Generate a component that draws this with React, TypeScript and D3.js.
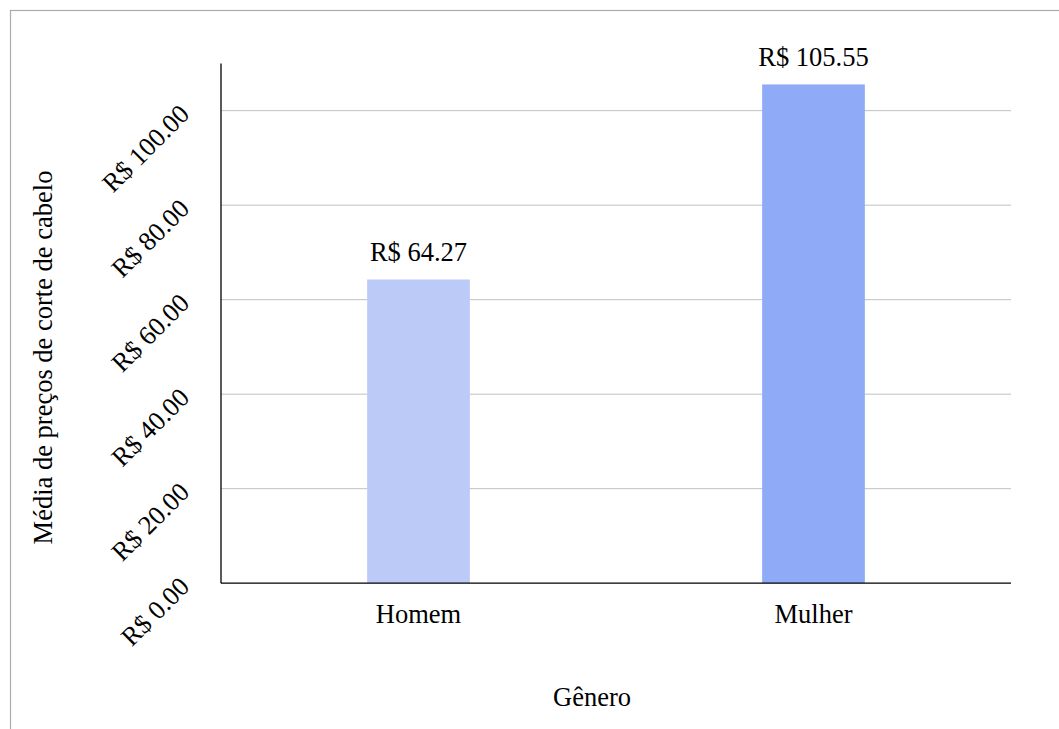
import React from "react";
import * as d3 from "d3";

const categories = ["Homem", "Mulher"];
const values = [64.27, 105.55];
const barColors = ["#BCCAF7", "#8FABF7"];
const yTicks = [0, 20, 40, 60, 80, 100];
const yMax = 110;
const yTitle = "Média de preços de corte de cabelo";
const xTitle = "Gênero";

const W = 1059;
const H = 729;
const plotLeft = 221;
const plotRight = 1011;
const plotTop = 63.4;
const plotBottom = 583.2;
const FONT = "'Liberation Serif', 'Times New Roman', serif";
const FS = 26.5;

const fmt = (v: number) => "R$ " + v.toFixed(2);

export default function App() {
  const x = d3.scaleBand<string>().domain(categories).range([plotLeft, plotRight]).padding(0);
  const y = d3.scaleLinear().domain([0, yMax]).range([plotBottom, plotTop]);
  const barW = x.bandwidth() * 0.26;

  return (
    <svg
      width={W}
      height={H}
      style={{ position: "absolute", left: 0, top: 0, background: "#fff" }}
      fontFamily={FONT}
    >
      <rect x={10.5} y={10.5} width={1200} height={900} fill="#fff" stroke="#ababab" strokeWidth={1.2} />
      {yTicks.filter((t) => t > 0).map((t) => (
        <line key={"g" + t} x1={plotLeft} x2={plotRight} y1={y(t)} y2={y(t)} stroke="#c0c0c0" strokeWidth={1} />
      ))}
      {categories.map((c, i) => {
        const cx = (x(c) as number) + x.bandwidth() / 2;
        return (
          <g key={c}>
            <rect x={cx - barW / 2} y={y(values[i])} width={barW} height={plotBottom - y(values[i])} fill={barColors[i]} />
            <text x={cx} y={y(values[i]) - 18} textAnchor="middle" fontSize={FS} fill="#000">
              {fmt(values[i])}
            </text>
            <text x={cx} y={622.5} textAnchor="middle" fontSize={FS} fill="#000">
              {c}
            </text>
          </g>
        );
      })}
      <line x1={plotLeft} x2={plotLeft} y1={plotTop} y2={plotBottom} stroke="#000" strokeWidth={1.3} />
      <line x1={plotLeft} x2={plotRight} y1={plotBottom} y2={plotBottom} stroke="#000" strokeWidth={1.3} />
      {yTicks.map((t) => {
        const ax = plotLeft - 30;
        const ay = y(t) + 5;
        return (
          <text key={"t" + t} x={ax} y={ay} textAnchor="end" fontSize={FS} fill="#000" transform={`rotate(-45 ${ax} ${ay})`}>
            {fmt(t)}
          </text>
        );
      })}
      <text x={52} y={357.5} textAnchor="middle" fontSize={FS} fill="#000" transform="rotate(-90 52 357.5)">
        {yTitle}
      </text>
      <text x={592} y={706} textAnchor="middle" fontSize={FS} fill="#000">
        {xTitle}
      </text>
    </svg>
  );
}
